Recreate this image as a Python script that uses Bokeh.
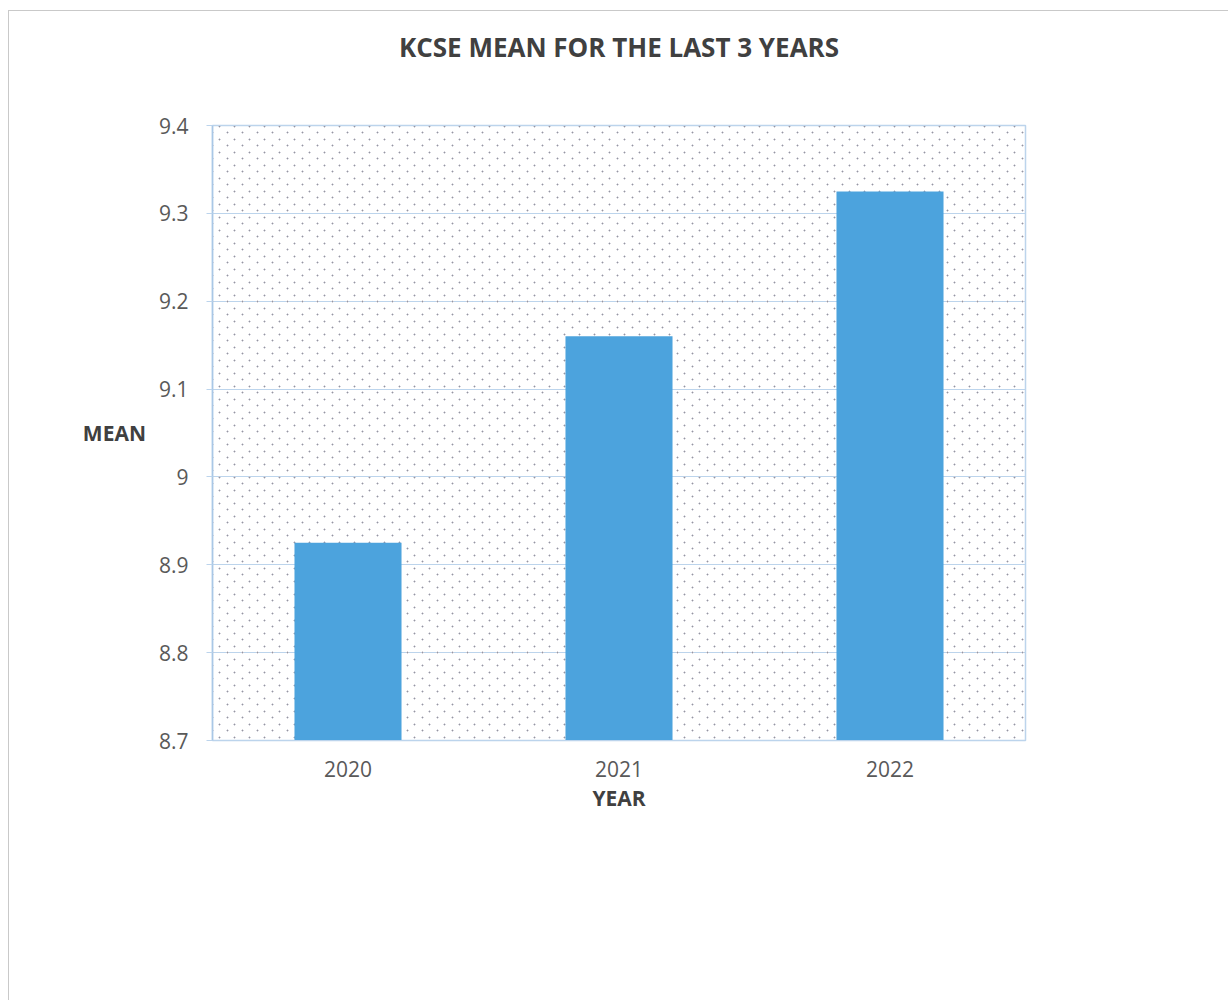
import zlib, struct, base64
from bokeh.plotting import figure
from bokeh.models import ColumnDataSource, Range1d, FixedTicker, BoxAnnotation, ImageURLTexture, Title
from bokeh.embed import file_html
from bokeh.resources import INLINE

years = ["2020", "2021", "2022"]
means = [8.925, 9.16, 9.325]
y_ticks = [8.7, 8.8, 8.9, 9.0, 9.1, 9.2, 9.3, 9.4]
y_tick_labels = ["8.7", "8.8", "8.9", "9", "9.1", "9.2", "9.3", "9.4"]
title_text = "KCSE MEAN FOR THE LAST 3 YEARS"

FONT = "Open Sans"
GRID = "#bcd4ec"
TXT = "#595959"


def dot_tile_png(w, h, dots):
    px = [[(255, 255, 255, 0) for _ in range(w)] for _ in range(h)]
    for (cx, cy) in dots:
        px[cy][cx] = (150, 150, 160, 255)
        for dx, dy in ((1, 0), (-1, 0), (0, 1), (0, -1)):
            x, y = (cx + dx) % w, (cy + dy) % h
            px[y][x] = (200, 200, 210, 200)
    raw = b"".join(b"\x00" + b"".join(bytes(c) for c in row) for row in px)

    def chunk(tag, data):
        return struct.pack(">I", len(data)) + tag + data + struct.pack(">I", zlib.crc32(tag + data) & 0xffffffff)
    png = (b"\x89PNG\r\n\x1a\n" + chunk(b"IHDR", struct.pack(">IIBBBBB", w, h, 8, 6, 0, 0, 0))
           + chunk(b"IDAT", zlib.compress(raw)) + chunk(b"IEND", b""))
    return "data:image/png;base64," + base64.b64encode(png).decode()


tile_url = dot_tile_png(15, 13, [(2, 2), (9, 9)])

p = figure(x_range=years, y_range=Range1d(8.7, 9.4), width=1228, height=1000,
           output_backend="svg", toolbar_location=None, title_location=None,
           min_border_left=212, min_border_right=203, min_border_top=125, min_border_bottom=260)
p.background_fill_color = "white"
p.border_fill_color = "white"
p.border_fill_alpha = 0
p.outline_line_color = GRID
p.outline_line_width = 1.5
p.styles = {
    "background-image": "linear-gradient(#c9c9c9, #c9c9c9), linear-gradient(#c9c9c9, #c9c9c9)",
    "background-size": "100% 1px, 1px 100%",
    "background-position": "8px 10px, 8px 10px",
    "background-repeat": "no-repeat",
    "background-color": "white",
}

# dotted background pattern
bg = BoxAnnotation(fill_alpha=0, hatch_pattern="bgdots",
                   hatch_extra={"bgdots": ImageURLTexture(url=tile_url, repetition="repeat")},
                   line_color=None, level="underlay")
p.add_layout(bg)

src = ColumnDataSource(dict(x=years, top=means))
p.vbar(x="x", top="top", bottom=8.7, width=0.395, source=src, fill_color="#4ca3dd", line_color=None)

# spacer first (it sits closest to the frame), then the real title above it
p.add_layout(Title(text=" ", text_font_size="1px", text_color="white", standoff=32), "above")
p.add_layout(Title(text=title_text, align="center", text_font=FONT, text_font_size="26px",
                   text_font_style="bold", text_color="#404040", standoff=52), "above")

p.xgrid.grid_line_color = None
p.ygrid.grid_line_color = GRID
p.ygrid.grid_line_width = 1.2
p.ygrid.ticker = FixedTicker(ticks=y_ticks)

p.yaxis.ticker = FixedTicker(ticks=y_ticks)
p.yaxis.major_label_overrides = {t: l for t, l in zip(y_ticks, y_tick_labels)}
p.yaxis.minor_tick_line_color = None
p.yaxis.major_tick_in = 0
p.yaxis.major_tick_out = 6
p.yaxis.major_tick_line_color = GRID
p.yaxis.axis_line_color = "#a9c7e6"
p.yaxis.axis_line_width = 1.5
p.yaxis.major_label_text_font = FONT
p.yaxis.major_label_text_font_size = "21px"
p.yaxis.major_label_text_color = TXT
p.yaxis.major_label_standoff = 18

p.xaxis.axis_line_color = GRID
p.xaxis.axis_line_width = 1.2
p.xaxis.major_tick_line_color = None
p.xaxis.major_label_text_font = FONT
p.xaxis.major_label_text_font_size = "21px"
p.xaxis.major_label_text_color = TXT
p.xaxis.major_label_standoff = 14
p.xaxis.axis_label = "YEAR"
p.xaxis.axis_label_text_font = FONT
p.xaxis.axis_label_text_font_size = "21px"
p.xaxis.axis_label_text_font_style = "bold"
p.xaxis.axis_label_text_color = "#404040"
p.xaxis.axis_label_standoff = 4

p.yaxis.axis_label = "MEAN"
p.yaxis.axis_label_text_font = FONT
p.yaxis.axis_label_text_font_size = "21px"
p.yaxis.axis_label_text_font_style = "bold"
p.yaxis.axis_label_text_color = "#404040"
p.yaxis.axis_label_standoff = 10
try:
    p.yaxis.axis_label_orientation = "horizontal"
except Exception:
    pass

open("out.html", "w").write(file_html(p, INLINE))
